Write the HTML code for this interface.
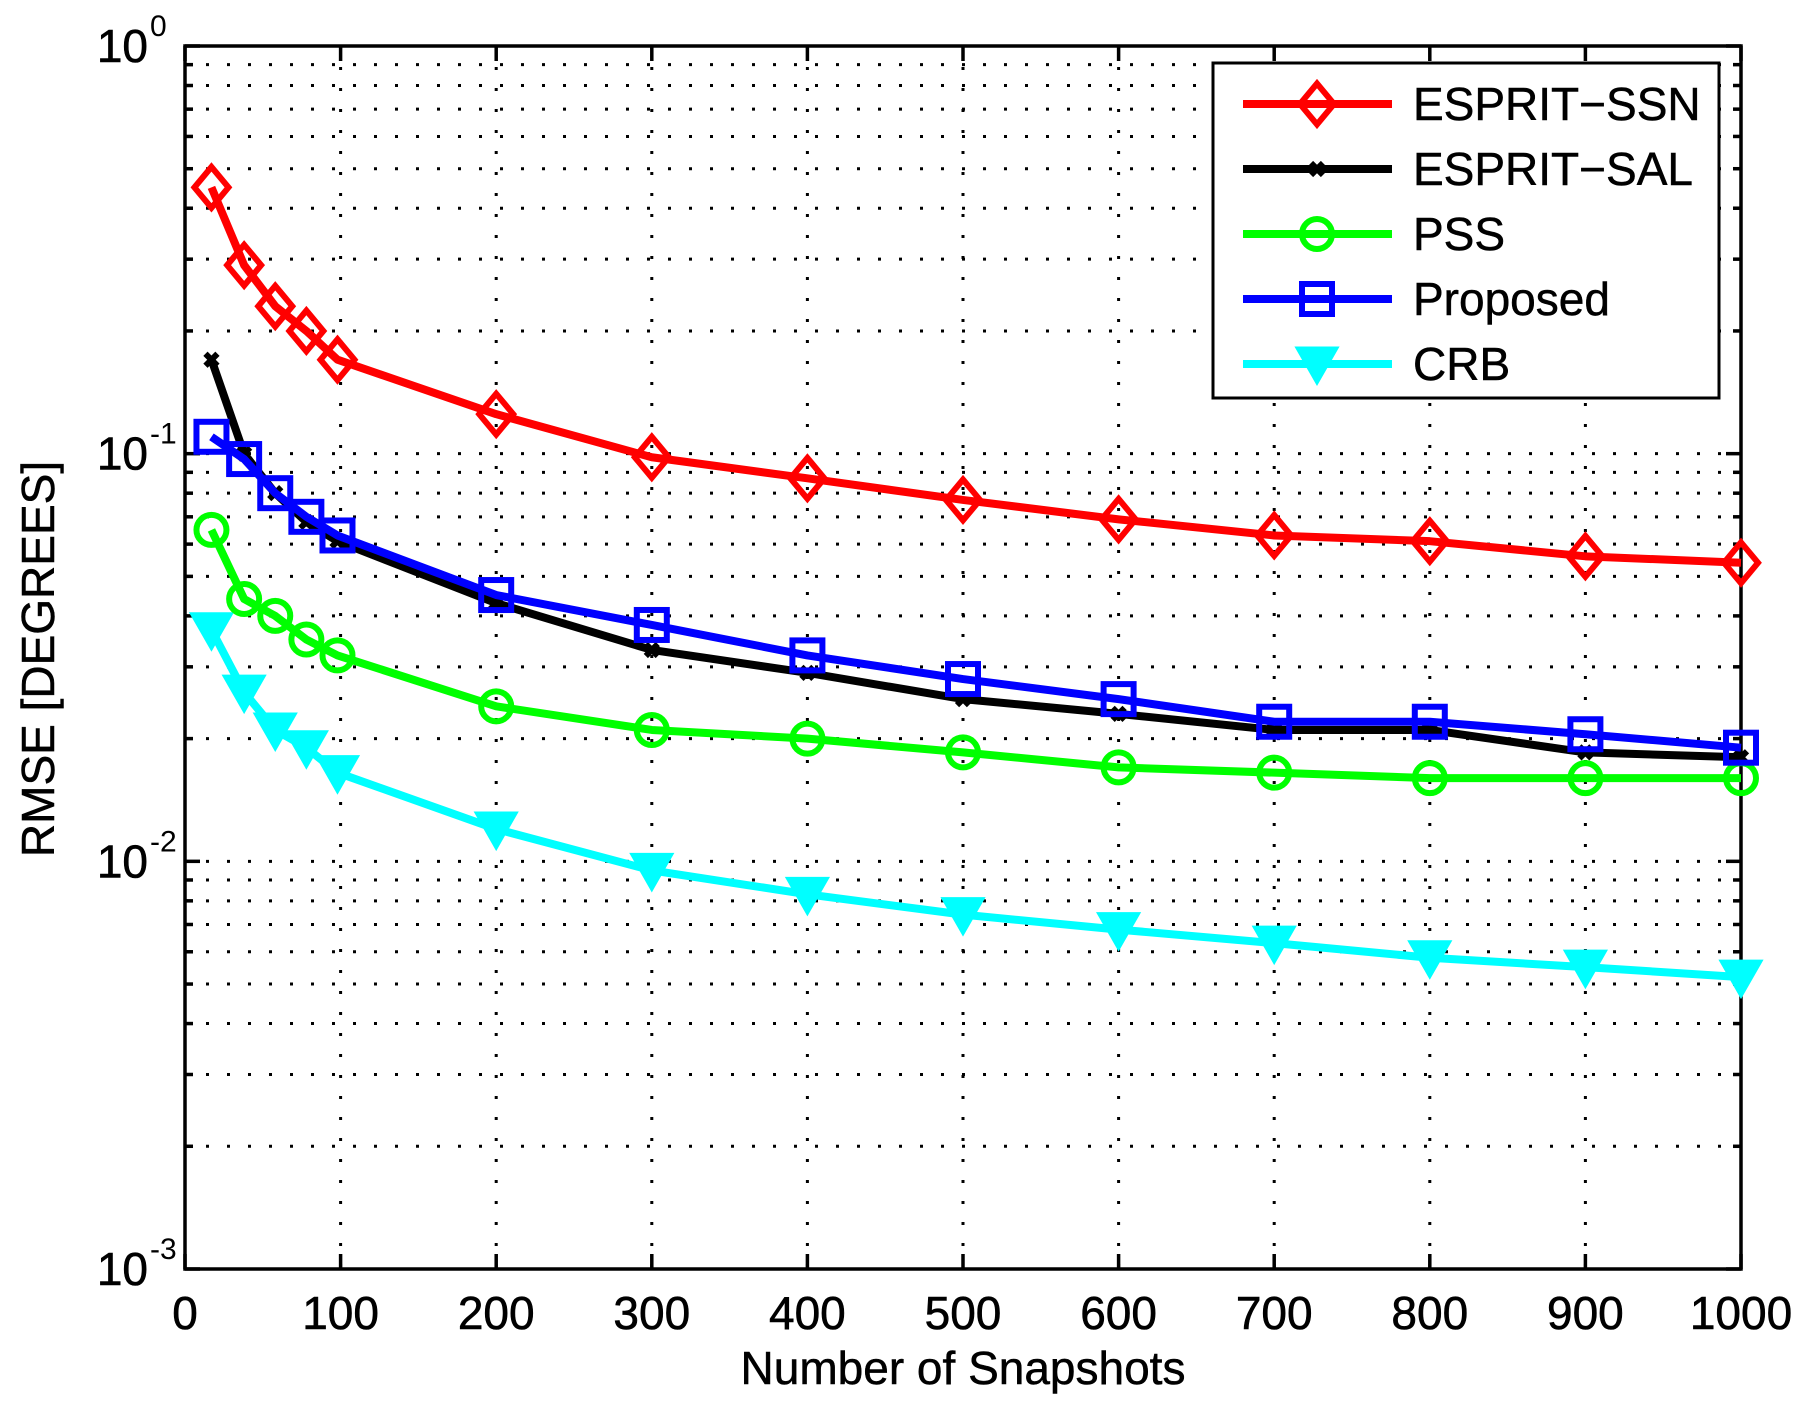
<!DOCTYPE html>
<html><head><meta charset="utf-8"><style>
body{margin:0;background:#fff}
svg{display:block;font-family:"Liberation Sans",Arial,sans-serif}
</style></head><body>
<svg id="chart" width="1804" height="1406" viewBox="0 0 1804 1406">
<rect width="1804" height="1406" fill="#fff"/>
<g id="grid"></g>
<g id="axes"></g>
<g id="series"></g>
<g id="legend"></g>
</svg>
<script>
const xValues = [17,38,58,78,98,200,300,400,500,600,700,800,900,1000];
const ssn = [0.45,0.29,0.23,0.20,0.17,0.125,0.098,0.087,0.077,0.069,0.063,0.061,0.056,0.054];
const sal = [0.17,0.10,0.08,0.068,0.061,0.043,0.033,0.029,0.025,0.023,0.021,0.021,0.0185,0.018];
const pss = [0.065,0.044,0.040,0.035,0.032,0.024,0.021,0.020,0.0185,0.017,0.0165,0.016,0.016,0.016];
const proposed = [0.11,0.097,0.080,0.070,0.063,0.045,0.038,0.032,0.028,0.025,0.022,0.022,0.0205,0.019];
const crb = [0.037,0.026,0.021,0.019,0.0165,0.012,0.0095,0.0083,0.0074,0.0068,0.0063,0.0058,0.0055,0.0052];
const xTicks = [0,100,200,300,400,500,600,700,800,900,1000];
const yDecades = [-3,-2,-1,0];
const legendLabels = ["ESPRIT\u2212SSN","ESPRIT\u2212SAL","PSS","Proposed","CRB"];

const L=185,R=1741,T=46,B=1269;
const NS="http://www.w3.org/2000/svg";
function xs(v){return L+(v-0)/1000*(R-L);}
function ys(v){return B-(Math.log10(v)+3)/3*(B-T);}
function mk(tag,attrs,parent){const e=document.createElementNS(NS,tag);for(const k in attrs)e.setAttribute(k,attrs[k]);parent.appendChild(e);return e;}

const grid=document.getElementById('grid'),axes=document.getElementById('axes'),ser=document.getElementById('series'),leg=document.getElementById('legend');
xTicks.forEach(t=>{if(t>0&&t<1000){const g=mk('line',{x1:xs(t),x2:xs(t),y1:T,y2:B,stroke:'#000','stroke-width':3,'stroke-dasharray':'3 18'},grid);

}});
for(let d=-3;d<0;d++){for(let m=1;m<10;m++){const v=m*Math.pow(10,d);if(v<=0.001)continue;
const g=mk('line',{x1:L,x2:R,y1:ys(v),y2:ys(v),stroke:'#000','stroke-width':3,'stroke-dasharray':'3 18'},grid);

}}
const box=mk('rect',{x:L,y:T,width:R-L,height:B-T,fill:'none',stroke:'#000','stroke-width':3.5},axes);


xTicks.forEach(t=>{mk('line',{x1:xs(t),x2:xs(t),y1:B,y2:B-15,stroke:'#000','stroke-width':3.5},axes);mk('line',{x1:xs(t),x2:xs(t),y1:T,y2:T+15,stroke:'#000','stroke-width':3.5},axes);
const tx=mk('text',{x:xs(t),y:B+60,'font-size':46,'text-anchor':'middle',stroke:'#000','stroke-width':0.6},axes);tx.textContent=t;

});
for(let d=-3;d<=0;d++){for(let m=1;m<10;m++){const v=m*Math.pow(10,d);if(v>1)break;const len=m===1?15:8;
mk('line',{x1:L,x2:L+len,y1:ys(v),y2:ys(v),stroke:'#000','stroke-width':3.5},axes);mk('line',{x1:R,x2:R-len,y1:ys(v),y2:ys(v),stroke:'#000','stroke-width':3.5},axes);}}
yDecades.forEach(d=>{const tx=mk('text',{x:148,y:ys(Math.pow(10,d))+16,'font-size':46,'text-anchor':'end',stroke:'#000','stroke-width':0.6},axes);
tx.textContent='10';


const sp=mk('text',{x:150,y:ys(Math.pow(10,d))-10,'font-size':30,'text-anchor':'start'},axes);sp.textContent=d;

});
const xl=mk('text',{x:(L+R)/2,y:1384,'font-size':46,'text-anchor':'middle',stroke:'#000','stroke-width':0.5},axes);xl.textContent='Number of Snapshots';


const yl=mk('text',{x:0,y:0,'font-size':46,'text-anchor':'middle',stroke:'#000','stroke-width':0.5,transform:'translate(54,659) rotate(-90)'},axes);yl.textContent='RMSE [DEGREES]';



function marker(type,color,cx,cy,parent){
 const s=17;let e;
 if(type==='diamond')e=mk('polygon',{points:`${cx},${cy-s*1.2} ${cx+s},${cy} ${cx},${cy+s*1.2} ${cx-s},${cy}`,fill:'none',stroke:color,'stroke-width':6},parent);
 else if(type==='dot')e=mk('path',{d:`M${cx-6},${cy-6}L${cx+6},${cy+6}M${cx-6},${cy+6}L${cx+6},${cy-6}`,stroke:color,'stroke-width':6},parent);
 else if(type==='circle')e=mk('circle',{cx:cx,cy:cy,r:15,fill:'none',stroke:color,'stroke-width':6},parent);
 else if(type==='square')e=mk('rect',{x:cx-15,y:cy-15,width:30,height:30,fill:'none',stroke:color,'stroke-width':6},parent);
 else e=mk('polygon',{points:`${cx-20},${cy-16} ${cx+20},${cy-16} ${cx},${cy+19}`,fill:color,stroke:color,'stroke-width':3},parent);
 return e;
}
const seriesDefs=[[ssn,'#ff0000','diamond','ssn'],[sal,'#000000','dot','sal'],[pss,'#00ff00','circle','pss'],[proposed,'#0000ff','square','proposed'],[crb,'#00ffff','tri','crb']];
[4,2,1,3,0].forEach(i=>{const [vals,col,mt,nm]=seriesDefs[i];
 const g=mk('g',{},ser);
 
 
 const pts=vals.map((v,j)=>xs(xValues[j])+','+ys(v)).join(' ');
 const pl=mk('polyline',{points:pts,fill:'none',stroke:col,'stroke-width':8,'stroke-linejoin':'round'},g);
 
 
 vals.forEach((v,j)=>{const m=marker(mt,col,xs(xValues[j]),ys(v),g);
 
 });
});
const lb=mk('rect',{x:1213,y:63,width:506,height:335,fill:'#fff',stroke:'#000','stroke-width':3},leg);


seriesDefs.forEach((s,i)=>{const y=104+i*65;
 const g=mk('g',{},leg);
 
 
 mk('line',{x1:1243,x2:1392,y1:y,y2:y,stroke:s[1],'stroke-width':8},g);
 marker(s[2],s[1],1317,y,g);
 const t=mk('text',{x:1413,y:y+16,'font-size':46,stroke:'#000','stroke-width':0.5},g);t.textContent=legendLabels[i];
 
 
});
</script>
</body></html>
